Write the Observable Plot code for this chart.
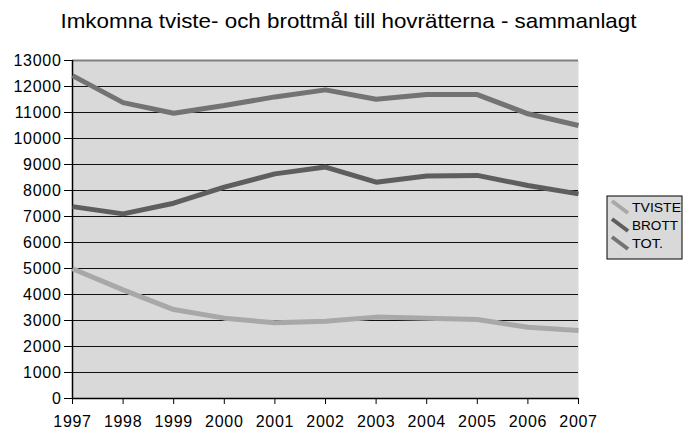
<!DOCTYPE html>
<html><head><meta charset="utf-8">
<script src="https://cdn.jsdelivr.net/npm/d3@7"></script>
<script src="https://cdn.jsdelivr.net/npm/@observablehq/plot@0.6"></script>
<style>
body{margin:0;background:#fff;font-family:"Liberation Sans",Arial,sans-serif;}
</style></head>
<body><div id="wrap"></div>
<script>
const title = "Imkomna tviste- och brottmål till hovrätterna - sammanlagt";
const years = [1997,1998,1999,2000,2001,2002,2003,2004,2005,2006,2007];
const tviste = [4990,4180,3420,3090,2910,2970,3130,3090,3040,2740,2620];
const brott  = [7380,7100,7510,8130,8640,8900,8320,8560,8580,8190,7870];
const tot    = [12420,11380,10970,11270,11600,11870,11510,11690,11690,10950,10500];
const seriesNames = ["TVISTE","BROTT","TOT."];
const seriesColors = ["#a8a8a8","#5e5e5e","#737373"];
const yTicks = d3.range(0,13001,1000);

const rows = [];
[tviste,brott,tot].forEach((arr,i)=>arr.forEach((v,j)=>rows.push({year:years[j],value:v,series:seriesNames[i]})));

const chart = Plot.plot({
  width:689, height:434,
  marginLeft:72, marginRight:111, marginTop:60, marginBottom:36,
  style:{fontFamily:"Liberation Sans, Arial, sans-serif", fontSize:"16px", color:"#000", background:"#fff"},
  x:{domain:[1997,2007], label:null},
  y:{domain:[0,13000], label:null},
  color:{domain:seriesNames, range:seriesColors},
  marks:[
    Plot.frame({fill:"#d9d9d9", stroke:null}),
    Plot.gridY(yTicks,{stroke:"#111", strokeOpacity:1, strokeWidth:1}),
    Plot.ruleY([13000],{stroke:"#808080", strokeWidth:2}),
    Plot.axisX({ticks:years, tickFormat:"d", tickSize:6, tickPadding:11, fontSize:16}),
    Plot.axisY({ticks:yTicks, tickFormat:"d", tickSize:8, tickPadding:3, fontSize:16}),
    Plot.ruleX([1997],{stroke:"#000", strokeWidth:1.5}),
    Plot.ruleY([0],{stroke:"#000", strokeWidth:1.5}),
    Plot.line(rows,{x:"year", y:"value", stroke:"series", z:"series", strokeWidth:5, strokeLinejoin:"miter", strokeLinecap:"butt"})
  ]
});
document.getElementById("wrap").appendChild(chart);
const svg = d3.select(chart);
svg.selectAll("g[aria-label='x-axis tick label'] text, g[aria-label='y-axis tick label'] text").style("letter-spacing","0.7px");
svg.append("text").attr("x",348.5).attr("y",28).attr("text-anchor","middle")
  .attr("font-size",21).attr("font-family","Liberation Sans, Arial, sans-serif").attr("fill","#000")
  .attr("textLength",576).attr("lengthAdjust","spacingAndGlyphs").text(title);
const lg = svg.append("g").attr("transform","translate(607,196)");
lg.append("rect").attr("width",75).attr("height",63).attr("fill","#d9d9d9").attr("stroke","#000").attr("stroke-width",1);
const lens = [49,46,31];
seriesNames.forEach((n,i)=>{
  const cy = 11 + i*18;
  lg.append("line").attr("x1",5).attr("y1",cy-6).attr("x2",21).attr("y2",cy+6).attr("stroke",seriesColors[i]).attr("stroke-width",4);
  lg.append("text").attr("x",25).attr("y",cy+4.5).attr("text-anchor","start").attr("font-size",13)
    .attr("font-family","Liberation Sans, Arial, sans-serif").attr("fill","#000")
    .attr("textLength",lens[i]).attr("lengthAdjust","spacingAndGlyphs").text(n);
});
</script></body></html>
